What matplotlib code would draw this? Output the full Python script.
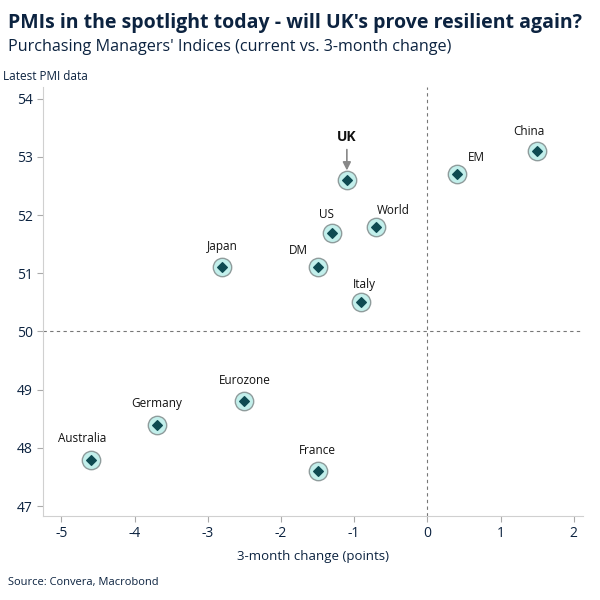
import matplotlib
matplotlib.use("Agg")
import matplotlib.pyplot as plt

plt.rcParams['font.family'] = ['Open Sans', 'DejaVu Sans']

countries = ["China", "EM", "UK", "World", "US", "DM", "Japan", "Italy",
             "Eurozone", "Germany", "Australia", "France"]
change_3m = [1.5, 0.4, -1.1, -0.7, -1.3, -1.5, -2.8, -0.9, -2.5, -3.7, -4.6, -1.5]
pmi_latest = [53.1, 52.7, 52.6, 51.8, 51.7, 51.1, 51.1, 50.5, 48.8, 48.4, 47.8, 47.6]
x_ticks = [-5, -4, -3, -2, -1, 0, 1, 2]
y_ticks = [47, 48, 49, 50, 51, 52, 53, 54]

# label offsets in points (dx, dy)
offsets = {"China": (-6, 14), "EM": (14, 12), "UK": (0, 31), "World": (12, 12),
           "US": (-4, 13), "DM": (-14, 12), "Japan": (0, 15), "Italy": (2, 13),
           "Eurozone": (0, 15), "Germany": (0, 15), "Australia": (-6, 15),
           "France": (0, 15)}

navy = "#0c2340"
fig = plt.figure(figsize=(6, 6), dpi=100)
ax = fig.add_axes([0.072, 0.14, 0.900, 0.715])

ax.axvline(0, color="#777777", ls=(0, (3, 3)), lw=0.8, zorder=1)
ax.axhline(50, color="#777777", ls=(0, (3, 3)), lw=0.8, zorder=1)

ax.scatter(change_3m, pmi_latest, s=175, color="#c2efeb", edgecolor="#8f9c9c",
           linewidth=1.0, zorder=3)
ax.scatter(change_3m, pmi_latest, s=24, marker="D", color="#0e4a52", zorder=4)

for c, x, y in zip(countries, change_3m, pmi_latest):
    dx, dy = offsets[c]
    if c == "UK":
        ax.annotate(c, (x, y), xytext=(dx, dy), textcoords="offset points",
                    ha="center", va="center", fontsize=10, fontweight="bold",
                    color="#111111", zorder=5)
        ax.annotate("", xy=(x, y), xytext=(0, 22), textcoords="offset points",
                    arrowprops=dict(arrowstyle="-|>", color="#888888", lw=1.2,
                                    shrinkA=0, shrinkB=7, mutation_scale=12),
                    zorder=5)
    else:
        ax.annotate(c, (x, y), xytext=(dx, dy), textcoords="offset points",
                    ha="center", va="center", fontsize=8.5, color="#111111", zorder=5)

ax.set_xlim(-5.25, 2.13)
ax.set_ylim(46.83, 54.2)
ax.set_xticks(x_ticks)
ax.set_yticks(y_ticks)
ax.set_xticklabels([str(t) for t in x_ticks])
ax.tick_params(axis="both", colors="#aaaaaa", labelcolor=navy, labelsize=10,
               length=4, width=0.8)
for side in ["top", "right"]:
    ax.spines[side].set_visible(False)
for side in ["left", "bottom"]:
    ax.spines[side].set_color("#d0d0d0")
ax.set_xlabel("3-month change (points)", fontsize=9.5, color=navy, labelpad=6)

fig.text(0.013, 0.962, "PMIs in the spotlight today - will UK's prove resilient again?",
         fontsize=14, fontweight="bold", color=navy, va="center")
fig.text(0.013, 0.922, "Purchasing Managers' Indices (current vs. 3-month change)",
         fontsize=11.6, color=navy, va="center")
fig.text(0.005, 0.873, "Latest PMI data", fontsize=8.5, color=navy, va="center")
fig.text(0.013, 0.030, "Source: Convera, Macrobond", fontsize=8, color=navy, va="center")

fig.savefig("out.png", dpi=100, facecolor="white")
